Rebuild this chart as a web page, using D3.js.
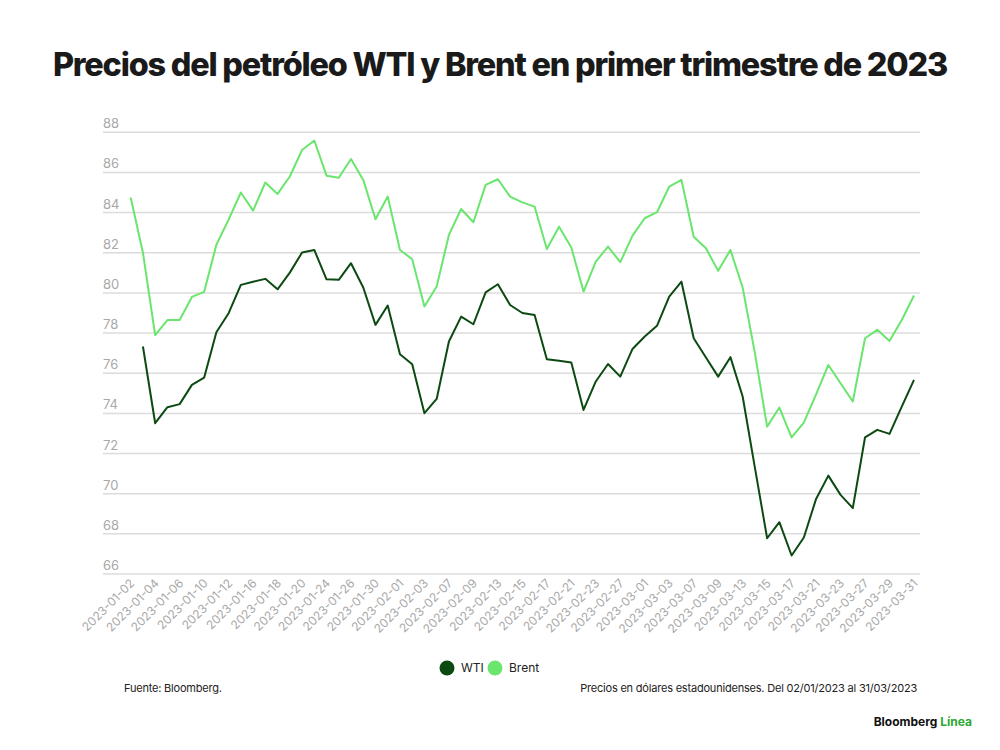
<!DOCTYPE html>
<html lang="es">
  <head>
    <meta charset="UTF-8" />
    <title>Precios del petróleo WTI y Brent</title>
    <style>
      body { margin: 0; background: #fff; }
      text { font-family: "Inter", "Roboto", sans-serif; }
      .title { font-weight: 800; font-size: 32.4px; fill: #1a1a1a; letter-spacing: -1.2px; }
      .grid line { stroke: #dcdcdc; stroke-width: 1.5px; }
      .ylab { font-size: 13px; fill: #a8a8a8; }
      .xaxis text { font-size: 12px; fill: #a8a8a8; }
      .line { fill: none; stroke-width: 2px; stroke-linejoin: round; }
      .note { font-size: 11px; fill: #222; letter-spacing: -0.2px; }
    </style>
  </head>
  <body>
    <script src="https://cdn.jsdelivr.net/npm/d3@7"></script>
    <script>

      // Data
      var dates = [
        "2023-01-02","2023-01-03","2023-01-04","2023-01-05","2023-01-06","2023-01-09","2023-01-10","2023-01-11","2023-01-12","2023-01-13",
        "2023-01-16","2023-01-17","2023-01-18","2023-01-19","2023-01-20","2023-01-23","2023-01-24","2023-01-25","2023-01-26","2023-01-27",
        "2023-01-30","2023-01-31","2023-02-01","2023-02-02","2023-02-03","2023-02-06","2023-02-07","2023-02-08","2023-02-09","2023-02-10",
        "2023-02-13","2023-02-14","2023-02-15","2023-02-16","2023-02-17","2023-02-20","2023-02-21","2023-02-22","2023-02-23","2023-02-24",
        "2023-02-27","2023-02-28","2023-03-01","2023-03-02","2023-03-03","2023-03-06","2023-03-07","2023-03-08","2023-03-09","2023-03-10",
        "2023-03-13","2023-03-14","2023-03-15","2023-03-16","2023-03-17","2023-03-20","2023-03-21","2023-03-22","2023-03-23","2023-03-24",
        "2023-03-27","2023-03-28","2023-03-29","2023-03-30","2023-03-31"
      ];

      var wti = [
        null, 77.33, 73.51, 74.31, 74.46, 75.42, 75.78, 78.04, 78.99, 80.40,
        80.56, 80.70, 80.18, 81.01, 82.01, 82.14, 80.68, 80.65, 81.48, 80.27,
        78.41, 79.37, 76.95, 76.45, 74.01, 74.72, 77.58, 78.82, 78.44, 80.03,
        80.43, 79.40, 79.00, 78.90, 76.70, 76.62, 76.53, 74.17, 75.59, 76.46,
        75.83, 77.21, 77.83, 78.36, 79.82, 80.56, 77.74, 76.78, 75.83, 76.80,
        74.84, 71.30, 67.78, 68.58, 66.92, 67.82, 69.74, 70.90, 69.94, 69.28,
        72.81, 73.18, 72.98, 74.34, 75.67
      ];

      var brent = [
        84.75, 82.00, 77.90, 78.65, 78.65, 79.80, 80.05, 82.40, 83.65, 85.00,
        84.10, 85.50, 84.93, 85.80, 87.12, 87.59, 85.84, 85.74, 86.67, 85.63,
        83.67, 84.80, 82.14, 81.68, 79.32, 80.32, 82.89, 84.18, 83.52, 85.38,
        85.66, 84.80, 84.51, 84.30, 82.19, 83.30, 82.26, 80.07, 81.56, 82.31,
        81.53, 82.85, 83.72, 84.02, 85.29, 85.63, 82.80, 82.22, 81.10, 82.14,
        80.27, 77.00, 73.34, 74.29, 72.80, 73.54, 74.95, 76.41, 75.50, 74.59,
        77.74, 78.16, 77.61, 78.65, 79.87
      ];

      var yTicks = [66, 68, 70, 72, 74, 76, 78, 80, 82, 84, 86, 88];
      var seriesNames = ["WTI", "Brent"];
      var seriesColors = ["#0c4a12", "#6ae56e"];

      var w = 1000, h = 750;

      var svg = d3.select("body").append("svg")
        .attr("width", w)
        .attr("height", h);

      // Title
      svg.append("text")
        .attr("class", "title")
        .attr("x", w / 2)
        .attr("y", 76)
        .attr("text-anchor", "middle")
        .text("Precios del petróleo WTI y Brent en primer trimestre de 2023");

      // Scales
      var xScale = d3.scalePoint()
        .domain(dates)
        .range([130.7, 914]);

      var yScale = d3.scaleLinear()
        .domain([66, 88])
        .range([574, 132.3]);

      // Gridlines with labels sitting above them
      var grid = svg.append("g").attr("class", "grid");

      grid.selectAll("line")
        .data(yTicks)
        .enter()
        .append("line")
        .attr("x1", 103)
        .attr("x2", 920)
        .attr("y1", function(d) { return yScale(d); })
        .attr("y2", function(d) { return yScale(d); });

      svg.selectAll(".ylab")
        .data(yTicks)
        .enter()
        .append("text")
        .attr("class", "ylab")
        .attr("x", 103)
        .attr("y", function(d) { return yScale(d) - 4; })
        .text(function(d) { return d; });

      // X axis, every other date
      var xAxis = d3.axisBottom(xScale)
        .tickValues(dates.filter(function(d, i) { return i % 2 === 0; }))
        .tickSize(0)
        .tickPadding(0);

      var gx = svg.append("g")
        .attr("class", "xaxis")
        .attr("transform", "translate(0," + 574 + ")")
        .call(xAxis);

      gx.select(".domain").remove();

      gx.selectAll("text")
        .attr("text-anchor", "end")
        .attr("dy", null)
        .attr("y", 0)
        .attr("transform", "translate(4,10) rotate(-45)");

      // Lines
      var line = d3.line()
        .defined(function(d) { return d.v !== null; })
        .x(function(d) { return xScale(d.date); })
        .y(function(d) { return yScale(d.v); });

      [wti, brent].forEach(function(values, k) {
        var pts = dates.map(function(d, i) { return { date: d, v: values[i] }; });
        svg.append("path")
          .datum(pts)
          .attr("class", "line")
          .attr("stroke", seriesColors[k])
          .attr("d", line);
      });

      // Legend
      var legendX = [447, 495];
      var legend = svg.append("g");
      seriesNames.forEach(function(name, k) {
        legend.append("circle")
          .attr("cx", legendX[k])
          .attr("cy", 668)
          .attr("r", 7.5)
          .attr("fill", seriesColors[k]);
        legend.append("text")
          .attr("x", legendX[k] + 14)
          .attr("y", 672)
          .attr("font-size", 12)
          .attr("fill", "#222")
          .text(name);
      });

      // Footer notes
      svg.append("text")
        .attr("class", "note")
        .attr("x", 124)
        .attr("y", 692)
        .text("Fuente: Bloomberg.");

      svg.append("text")
        .attr("class", "note")
        .attr("x", 917)
        .attr("y", 692)
        .attr("text-anchor", "end")
        .text("Precios en dólares estadounidenses. Del 02/01/2023 al 31/03/2023");

      var brand = svg.append("text")
        .attr("x", 972)
        .attr("y", 726)
        .attr("text-anchor", "end")
        .attr("font-size", 12)
        .attr("font-weight", 700);
      brand.append("tspan").attr("fill", "#111").text("Bloomberg ");
      brand.append("tspan").attr("fill", "#2aa830").text("Línea");

    </script>
  </body>
</html>
